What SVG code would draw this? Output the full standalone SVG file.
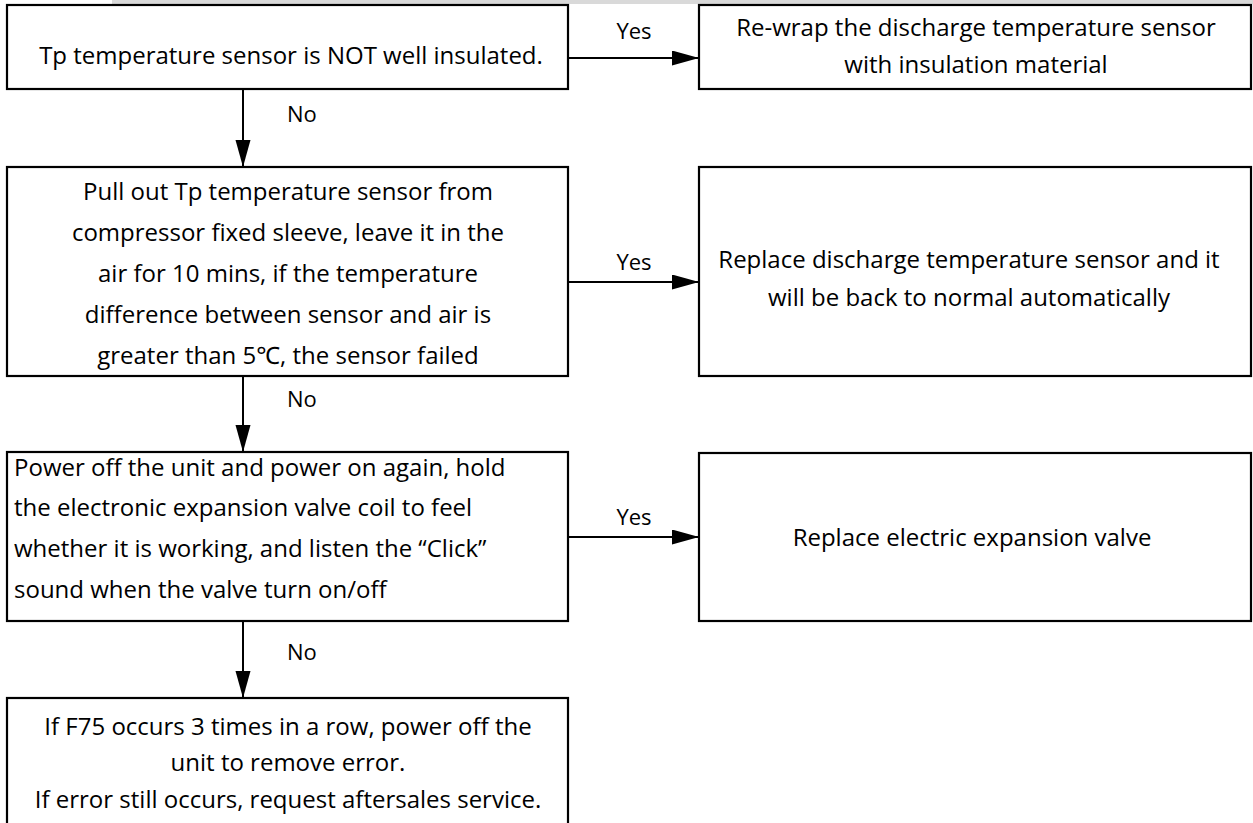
<svg xmlns="http://www.w3.org/2000/svg" width="1253" height="823" viewBox="0 0 1253 823">
<style>
.box{fill:#fff;stroke:#000;stroke-width:2.2}
.t{font-family:"Open Sans","Noto Sans",sans-serif;font-size:24px;fill:#000}
.c{text-anchor:middle}
.conn{stroke:#000;stroke-width:2;fill:none}
.lbl{font-family:"Open Sans","Noto Sans",sans-serif;font-size:22px;fill:#000}
</style>
<defs>
<marker id="ah" markerUnits="userSpaceOnUse" markerWidth="28" markerHeight="16" refX="27" refY="7.5" orient="auto">
<path d="M0,0 L27,7.5 L0,15 z" fill="#000"/>
</marker>
</defs>
<rect width="1253" height="823" fill="#fff"/>
<rect x="112" y="0" width="1141" height="4" fill="#d9d9d9"/>
<g id="n1"><rect class="box" x="7" y="5" width="561" height="84"/>
<text class="t c" x="291" y="64">Tp temperature sensor is NOT well insulated.</text></g>
<g id="n2"><rect class="box" x="699" y="5" width="552" height="84"/>
<text class="t c" x="976" y="36">Re-wrap the discharge temperature sensor</text>
<text class="t c" x="976" y="73">with insulation material</text></g>
<g id="n3"><rect class="box" x="7" y="167" width="561" height="209"/>
<text class="t c" x="288" y="200">Pull out Tp temperature sensor from</text>
<text class="t c" x="288" y="241">compressor fixed sleeve, leave it in the</text>
<text class="t c" x="288" y="282">air for 10 mins, if the temperature</text>
<text class="t c" x="288" y="323">difference between sensor and air is</text>
<text class="t c" x="288" y="364">greater than 5℃, the sensor failed</text></g>
<g id="n4"><rect class="box" x="699" y="167" width="552" height="209"/>
<text class="t c" x="969" y="268">Replace discharge temperature sensor and it</text>
<text class="t c" x="969" y="306">will be back to normal automatically</text></g>
<g id="n5"><rect class="box" x="7" y="452" width="561" height="169"/>
<text class="t" x="14" y="476">Power off the unit and power on again, hold</text>
<text class="t" x="14" y="516">the electronic expansion valve coil to feel</text>
<text class="t" x="14" y="557">whether it is working, and listen the “Click”</text>
<text class="t" x="14" y="598">sound when the valve turn on/off</text></g>
<g id="n6"><rect class="box" x="699" y="453" width="552" height="168"/>
<text class="t c" x="972" y="546">Replace electric expansion valve</text></g>
<g id="n7"><rect class="box" x="7" y="698" width="561" height="140"/>
<text class="t c" x="288" y="735">If F75 occurs 3 times in a row, power off the</text>
<text class="t c" x="288" y="771">unit to remove error.</text>
<text class="t c" x="288" y="808">If error still occurs, request aftersales service.</text></g>
<g id="connectors">
<line class="conn" x1="568" y1="58" x2="699" y2="58" marker-end="url(#ah)"/>
<line class="conn" x1="568" y1="282" x2="699" y2="282" marker-end="url(#ah)"/>
<line class="conn" x1="568" y1="537" x2="699" y2="537" marker-end="url(#ah)"/>
<line class="conn" x1="243" y1="89" x2="243" y2="167" marker-end="url(#ah)"/>
<line class="conn" x1="243" y1="376" x2="243" y2="452" marker-end="url(#ah)"/>
<line class="conn" x1="243" y1="621" x2="243" y2="698" marker-end="url(#ah)"/>
<text class="lbl c" x="634" y="39">Yes</text>
<text class="lbl c" x="634" y="270">Yes</text>
<text class="lbl c" x="634" y="525">Yes</text>
<text class="lbl" x="287" y="122">No</text>
<text class="lbl" x="287" y="407">No</text>
<text class="lbl" x="287" y="660">No</text>
</g>
</svg>
